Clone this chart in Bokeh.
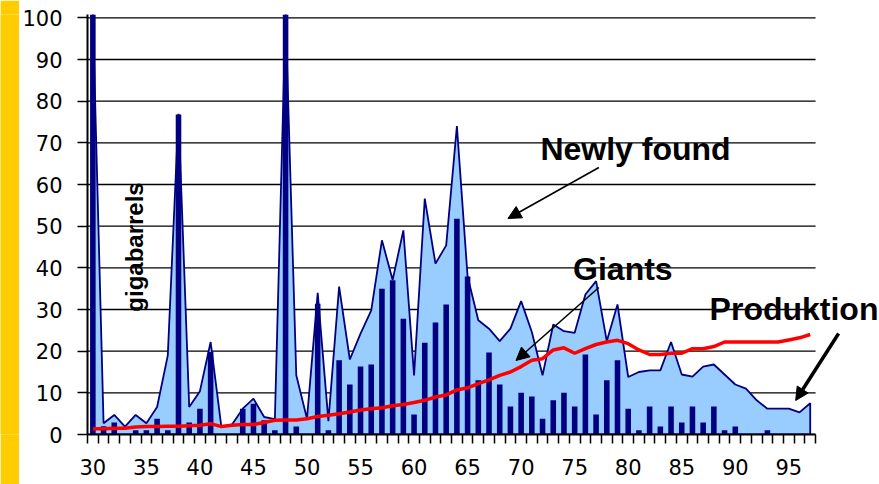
import numpy as np
from bokeh.plotting import figure
from bokeh.models import FixedTicker, Label, Arrow, NormalHead, ColumnDataSource
from bokeh.layouts import row
from bokeh.embed import file_html
from bokeh.resources import INLINE

years = list(range(1930, 1998))
newly_found = [101, 2.7, 4.7, 1.9, 4.7, 2.7, 6.6, 19, 77, 6.6,
               10.4, 22.2, 1.9, 2.4, 6.2, 8.6, 4.2, 3.7, 101, 14.2,
               3.8, 34, 3.2, 35.5, 18, 24.2, 29.8, 46.6, 37.1, 49,
               14.2, 56.6, 41, 45.4, 74, 37.9, 27.4, 25.4, 22.4, 25.4,
               32, 24.6, 14.2, 26.4, 24.8, 24.4, 33.6, 36.8, 22.4, 31.2,
               13.8, 15, 15.4, 15.4, 22.2, 14.4, 13.9, 16.3, 16.8, 14.4,
               12, 11, 8.2, 6.2, 6.2, 6.2, 5.3, 7.5]
giants = [101, 2, 2.9, 0, 1, 1, 3.8, 1, 76.8, 2.9,
          6.2, 19.8, 0, 0, 6.2, 7.4, 3.4, 1, 101, 1.9,
          0, 31.4, 1, 17.8, 12, 16.3, 16.8, 35, 37, 27.8,
          4.8, 22, 26.9, 31.2, 51.8, 37.9, 13, 19.7, 12, 6.7,
          10, 9.1, 3.8, 8.2, 10, 6.7, 19.2, 4.8, 13, 17.8,
          6.2, 1, 6.7, 1.9, 6.7, 2.9, 6.7, 2.9, 6.7, 1,
          1.9, 0, 0, 1, 0, 0, 0, 0]
production = [1.4, 1.4, 1.5, 1.5, 1.8, 1.9, 1.9, 2.0, 2.0, 2.1,
              2.2, 2.6, 1.9, 2.2, 2.4, 2.4, 2.9, 3.4, 3.5, 3.5,
              3.8, 4.3, 4.6, 5.0, 5.4, 5.9, 6.2, 6.4, 6.9, 7.2,
              7.7, 8.2, 9.0, 9.5, 10.7, 11.2, 12.2, 13.1, 14.2, 15.0,
              16.3, 17.8, 18.2, 20.3, 20.8, 19.5, 20.6, 21.6, 22.2, 22.6,
              21.8, 20.3, 19.2, 19.2, 19.5, 19.5, 20.6, 20.6, 21.1, 22.2,
              22.2, 22.2, 22.2, 22.2, 22.2, 22.7, 23.2, 24.0]
tick_years = list(range(1930, 2000, 5))
tick_labels = ["30", "35", "40", "45", "50", "55", "60", "65", "70", "75", "80", "85", "90", "95"]
y_ticks = list(range(0, 101, 10))

src = ColumnDataSource(dict(year=years, newly=newly_found, giants=giants, prod=production))

x_lo, x_hi = years[0] - 0.5, years[-1] + 0.5

p = figure(width=860, height=484, x_range=(x_lo, 2003.47), y_range=(0, 100.8),
           output_backend="svg", toolbar_location=None,
           min_border_left=67, min_border_right=0, min_border_top=14, min_border_bottom=50)
p.outline_line_color = None
p.background_fill_color = "white"
p.border_fill_color = "white"
p.xgrid.visible = False
p.ygrid.visible = False

# horizontal gridlines spanning the category axis only
p.segment(x0=[x_lo] * len(y_ticks), x1=[x_hi] * len(y_ticks), y0=y_ticks, y1=y_ticks,
          line_color="black", line_width=1.4)

# area (newly found)
px = [years[0]] + years + [years[-1]]
py = [0] + newly_found + [0]
p.patch(px, py, fill_color="#99CCFF", line_color="#000080", line_width=1.8)
# giants bars
p.vbar(x="year", top="giants", width=0.52, source=src, fill_color="#000080", line_color=None)
# production
p.line("year", "prod", source=src, line_color="#FF0000", line_width=3.5)

# axes
p.yaxis.ticker = FixedTicker(ticks=y_ticks)
p.yaxis.major_tick_out = 10
p.yaxis.major_tick_in = 0
p.yaxis.minor_tick_out = 0
p.yaxis.minor_tick_in = 0
p.yaxis.major_tick_line_width = 1.5
p.yaxis.axis_line_width = 2
p.yaxis.axis_line_color = "black"
p.yaxis.major_label_standoff = 15
p.yaxis.major_label_text_font = "DejaVu Sans"
p.yaxis.major_label_text_font_size = "21px"
p.yaxis.major_label_text_color = "black"

minor = [y - 0.5 for y in years] + [x_hi]
p.xaxis.ticker = FixedTicker(ticks=tick_years, minor_ticks=minor)
p.xaxis.bounds = (x_lo, x_hi)
p.xaxis.major_label_overrides = {y: l for y, l in zip(tick_years, tick_labels)}
p.xaxis.major_tick_out = 0
p.xaxis.major_tick_in = 0
p.xaxis.minor_tick_out = 9
p.xaxis.minor_tick_in = 0
p.xaxis.minor_tick_line_width = 1.5
p.xaxis.minor_tick_line_color = "black"
p.xaxis.axis_line_width = 2
p.xaxis.axis_line_color = "black"
p.xaxis.major_label_standoff = 15
p.xaxis.major_label_text_font = "DejaVu Sans"
p.xaxis.major_label_text_font_size = "21px"
p.xaxis.major_label_text_color = "black"

# annotations
lab_font = "Liberation Sans"
for tx, lx, ly in [("Newly found", 1971.8, 68.6), ("Giants", 1974.85, 39.8), ("Produktion", 1987.6, 30.2)]:
    p.add_layout(Label(x=lx, y=ly, text=tx, text_font=lab_font, text_font_style="bold",
                       text_font_size="32px", text_baseline="alphabetic", text_align="left",
                       text_color="black"))
p.add_layout(Label(x=1933.85, y=45.0, text="gigabarrels", angle=np.pi / 2, text_font=lab_font,
                   text_font_style="bold", text_font_size="24px", text_baseline="middle",
                   text_align="center", text_color="black"))

p.add_layout(Arrow(end=NormalHead(size=13, fill_color="black", line_color="black"),
                   x_start=1977.26, y_start=64.07, x_end=1968.77, y_end=51.84,
                   line_color="black", line_width=1.6))
p.add_layout(Arrow(end=NormalHead(size=13, fill_color="black", line_color="black"),
                   x_start=1977.26, y_start=35.28, x_end=1969.52, y_end=17.76,
                   line_color="black", line_width=1.6))
p.add_layout(Arrow(end=NormalHead(size=13, fill_color="black", line_color="black"),
                   x_start=1999.65, y_start=24.24, x_end=1995.64, y_end=8.16,
                   line_color="black", line_width=3.5))

strip = figure(width=19, height=484, output_backend="svg", toolbar_location=None,
               x_axis_type=None, y_axis_type=None, min_border=0,
               background_fill_color="#FFCC00", border_fill_color="#FFCC00")
strip.outline_line_color = None

layout = row(strip, p, spacing=0)

open("out.html", "w").write(file_html(layout, INLINE))
